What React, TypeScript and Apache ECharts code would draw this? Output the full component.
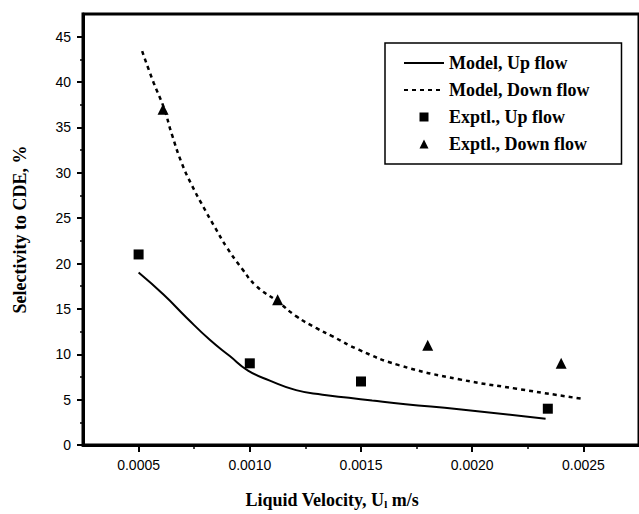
import React, { useEffect, useRef } from "react";
import * as echarts from "echarts";

// Model curves (liquid velocity in m/s, selectivity in %)
const upModelX = [0.0005, 0.000613, 0.000717, 0.00082, 0.00091, 0.000992, 0.00109, 0.001208, 0.001327, 0.001446, 0.00155, 0.0017, 0.00194, 0.00233];
const upModelY = [19.0, 16.55, 14.0, 11.6, 9.8, 8.2, 7.1, 6.05, 5.55, 5.2, 4.9, 4.5, 3.95, 2.9];

const downModelX = [0.000516, 0.000568, 0.000613, 0.00065, 0.000695, 0.00074, 0.000792, 0.000843, 0.000896, 0.000963, 0.00103, 0.001126, 0.001208, 0.001298, 0.00137, 0.00149, 0.00167, 0.00194, 0.0022, 0.0025];
const downModelY = [43.4, 39.9, 37.2, 34.2, 31.0, 28.6, 26.2, 24.0, 21.8, 19.5, 17.5, 15.8, 14.2, 12.9, 12.0, 10.5, 8.8, 7.25, 6.2, 5.07];

// Experimental points
const upExpX = [0.0005, 0.001, 0.0015, 0.00234];
const upExpY = [21, 9, 7, 4];
const downExpX = [0.00061, 0.001125, 0.0018, 0.0024];
const downExpY = [37, 16, 11, 9];

const xMajorTicks = [0.0005, 0.001, 0.0015, 0.002, 0.0025];
const xMinorTicks = [0.00075, 0.00125, 0.00175, 0.00225];
const yMajorTicks = [0, 5, 10, 15, 20, 25, 30, 35, 40, 45];
const yMinorTicks = [2.5, 7.5, 12.5, 17.5, 22.5, 27.5, 32.5, 37.5, 42.5];

const pairs = (xs: number[], ys: number[]) => xs.map((x, i) => [x, ys[i]]);

const SERIF = "'Liberation Serif', 'Times New Roman', serif";
const SANS = "'Liberation Sans', Arial, sans-serif";

const SQUARE_ICON = "path://M0,0L10,0L10,10L0,10Z";
const TRIANGLE_ICON = "path://M5,0L10,10L0,10Z";

export default function App() {
  const ref = useRef<HTMLDivElement>(null);

  useEffect(() => {
    if (!ref.current) return;
    const chart = echarts.init(ref.current, undefined, { renderer: "svg" });

    const xBase = { type: "value", min: 0.00025, max: 0.00275, splitLine: { show: false } };
    const yBase = { type: "value", min: 0, max: 47.5, splitLine: { show: false } };

    chart.setOption({
      animation: false,
      backgroundColor: "#fff",
      grid: {
        left: 83,
        top: 14,
        bottom: 66,
        right: -4,
        show: true,
        borderColor: "#000",
        borderWidth: 3,
        backgroundColor: "transparent",
      },
      legend: {
        orient: "vertical",
        left: 385,
        top: 43,
        padding: [11, 32, 11, 18],
        itemWidth: 40,
        itemHeight: 9,
        itemGap: 9,
        symbolKeepAspect: true,
        borderColor: "#000",
        borderWidth: 1.5,
        textStyle: { fontFamily: SERIF, fontWeight: "bold", fontSize: 18, lineHeight: 18, color: "#000" },
        data: [
          { name: "Model, Up flow", itemStyle: { opacity: 0 } },
          { name: "Model, Down flow", itemStyle: { opacity: 0 } },
          { name: "Exptl., Up flow", icon: SQUARE_ICON, itemStyle: { opacity: 1 } },
          { name: "Exptl., Down flow", icon: TRIANGLE_ICON, itemStyle: { opacity: 1 } },
        ],
      },
      xAxis: [
        {
          ...xBase,
          position: "bottom",
          name: "Liquid Velocity, U{sub|l} m/s",
          nameLocation: "middle",
          nameGap: 45,
          nameTextStyle: {
            fontFamily: SERIF,
            fontWeight: "bold",
            fontSize: 18,
            color: "#000",
            padding: [0, 58, 0, 0],
            rich: {
              sub: { fontFamily: SERIF, fontWeight: "bold", fontSize: 11, verticalAlign: "bottom", padding: [8, 0, 0, 0] },
            },
          },
          axisLine: { lineStyle: { color: "#000", width: 3 } },
          axisTick: { customValues: xMajorTicks, length: 7, lineStyle: { color: "#000", width: 2 } },
          axisLabel: {
            customValues: xMajorTicks,
            margin: 13,
            fontFamily: SANS,
            fontSize: 14,
            color: "#000",
            formatter: (v: number) => v.toFixed(4),
          },
        },
        {
          ...xBase,
          position: "bottom",
          offset: 0,
          axisLine: { show: false },
          axisTick: { customValues: xMinorTicks, length: 4, lineStyle: { color: "#000", width: 1.5 } },
          axisLabel: { show: false },
        },
      ],
      yAxis: [
        {
          ...yBase,
          position: "left",
          name: "Selectivity to CDE, %",
          nameLocation: "middle",
          nameGap: 54,
          nameTextStyle: { fontFamily: SERIF, fontWeight: "bold", fontSize: 18, color: "#000" },
          axisLine: { lineStyle: { color: "#000", width: 3 } },
          axisTick: { customValues: yMajorTicks, length: 6, lineStyle: { color: "#000", width: 2 } },
          axisLabel: {
            customValues: yMajorTicks,
            margin: 12,
            fontFamily: SANS,
            fontSize: 14,
            color: "#000",
          },
        },
        {
          ...yBase,
          position: "left",
          offset: 0,
          axisLine: { show: false },
          axisTick: { customValues: yMinorTicks, length: 3, lineStyle: { color: "#000", width: 1.5 } },
          axisLabel: { show: false },
        },
      ],
      series: [
        {
          name: "Model, Up flow",
          type: "line",
          data: pairs(upModelX, upModelY),
          smooth: 0.5,
          symbol: "none",
          lineStyle: { color: "#000", width: 2 },
          itemStyle: { color: "#000" },
          z: 2,
        },
        {
          name: "Model, Down flow",
          type: "line",
          data: pairs(downModelX, downModelY),
          smooth: 0.5,
          symbol: "none",
          lineStyle: { color: "#000", width: 2.5, type: [4, 4] },
          itemStyle: { color: "#000" },
          z: 2,
        },
        {
          name: "Exptl., Up flow",
          type: "scatter",
          data: pairs(upExpX, upExpY),
          symbol: "rect",
          symbolSize: 10,
          itemStyle: { color: "#000", opacity: 1 },
          z: 3,
        },
        {
          name: "Exptl., Down flow",
          type: "scatter",
          data: pairs(downExpX, downExpY),
          symbol: "triangle",
          symbolSize: 11,
          itemStyle: { color: "#000", opacity: 1 },
          z: 3,
        },
      ],
    });

    return () => chart.dispose();
  }, []);

  return (
    <div
      ref={ref}
      style={{ position: "absolute", left: 0, top: 0, width: 639, height: 514, background: "#fff" }}
    />
  );
}
